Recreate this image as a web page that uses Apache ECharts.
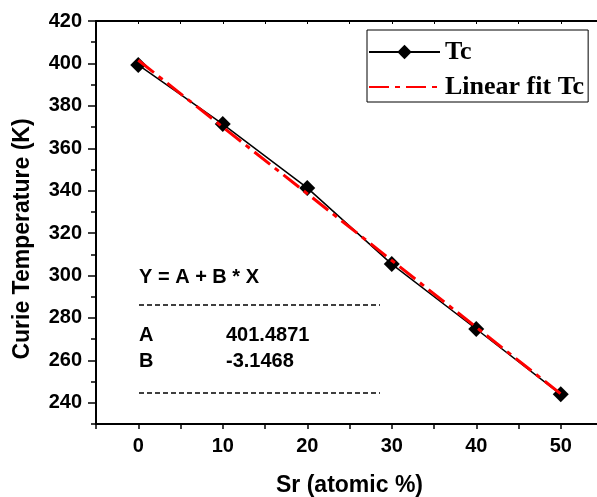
<!DOCTYPE html>
<html>
<head>
<meta charset="utf-8">
<script src="https://cdn.jsdelivr.net/npm/echarts@6/dist/echarts.min.js"></script>
<style>html,body{margin:0;padding:0;background:#fff;}#c{width:597px;height:497px;}</style>
</head>
<body>
<div id="c"></div>
<script>
// data
var srValues = [0, 10, 20, 30, 40, 50];
var tcValues = [399.3, 371.4, 341.3, 305.4, 274.8, 244.0];
var fitValues = [401.5, 370.0, 338.6, 307.1, 275.6, 244.2];
var yTickLabels = [240, 260, 280, 300, 320, 340, 360, 380, 400, 420];
var yMinorTicks = [230, 250, 270, 290, 310, 330, 350, 370, 390, 410];
var xTickLabels = [0, 10, 20, 30, 40, 50];
var xTicks = [-5, 0, 5, 10, 15, 20, 25, 30, 35, 40, 45, 50, 55];
var xTitle = 'Sr (atomic %)';
var yTitle = 'Curie Temperature (K)';
var fitText = { eq: 'Y = A + B * X', aName: 'A', aVal: '401.4871', bName: 'B', bVal: '-3.1468' };

var chart = echarts.init(document.getElementById('c'));
var sans = 'Liberation Sans';
var lbl = { fontFamily: sans, fontWeight: 'bold', fontSize: 20, color: '#000' };

chart.setOption({
  animation: false,
  grid: { left: 96, top: 21, right: -6, bottom: 73, containLabel: false, outerBoundsMode: 'none' },
  legend: {
    orient: 'vertical', left: 367, top: 30, width: 222,
    padding: [9, 4, 2, 1], itemGap: 9, itemWidth: 71, itemHeight: 18,
    borderColor: '#000', borderWidth: 1,
    textStyle: { fontFamily: 'Liberation Serif', fontWeight: 'bold', fontSize: 26, color: '#000' },
    data: ['Tc', { name: 'Linear fit Tc', itemStyle: { opacity: 0 } }]
  },
  xAxis: [{
    type: 'value', min: -5, max: 55, position: 'bottom',
    name: xTitle, nameLocation: 'middle', nameGap: 50,
    nameTextStyle: { fontFamily: sans, fontWeight: 'bold', fontSize: 23, color: '#000' },
    axisLine: { show: true, onZero: false, lineStyle: { color: '#000', width: 2 } },
    axisTick: { show: true, inside: false, length: 5, customValues: xTicks, lineStyle: { color: '#000', width: 1.5 } },
    axisLabel: Object.assign({ margin: 12, customValues: xTickLabels }, lbl),
    splitLine: { show: false }
  }, {
    type: 'value', min: -5, max: 55, position: 'top',
    axisLine: { show: true, onZero: false, lineStyle: { color: '#000', width: 2 } },
    axisTick: { show: true, inside: true, length: 3, customValues: xTicks, lineStyle: { color: '#000', width: 1 } },
    axisLabel: { show: false },
    splitLine: { show: false }
  }],
  yAxis: [{
    type: 'value', min: 230, max: 420, position: 'left',
    axisLine: { show: true, onZero: false, lineStyle: { color: '#000', width: 2 } },
    axisTick: { show: true, length: 8, customValues: yTickLabels, lineStyle: { color: '#000', width: 1.5 } },
    axisLabel: Object.assign({ margin: 14, customValues: yTickLabels }, lbl),
    splitLine: { show: false }
  }, {
    type: 'value', min: 230, max: 420, position: 'left',
    axisLine: { show: false, onZero: false },
    axisTick: { show: true, length: 5, customValues: yMinorTicks, lineStyle: { color: '#000', width: 1.5 } },
    axisLabel: { show: false },
    splitLine: { show: false }
  }],
  series: [{
    name: 'Tc', type: 'line', xAxisIndex: 0, yAxisIndex: 0,
    data: srValues.map(function (x, i) { return [x, tcValues[i]]; }),
    symbol: 'diamond', symbolSize: 16,
    itemStyle: { color: '#000' },
    lineStyle: { color: '#000', width: 1.5 },
    z: 2
  }, {
    name: 'Linear fit Tc', type: 'line', xAxisIndex: 0, yAxisIndex: 0,
    data: srValues.map(function (x, i) { return [x, fitValues[i]]; }),
    symbol: 'none', showSymbol: false,
    itemStyle: { color: '#ff0000' },
    lineStyle: { color: '#ff0000', width: 3, type: [20, 6, 5, 6] },
    z: 3
  }],
  graphic: [
    { type: 'text', x: 23, y: 239, rotation: Math.PI / 2,
      style: { text: yTitle, font: 'bold 23px "Liberation Sans"', fill: '#000', align: 'center', verticalAlign: 'middle' } },
    { type: 'text', left: 139, top: 267, style: { text: fitText.eq, font: 'bold 20px "Liberation Sans"', fill: '#000' } },
    { type: 'line', shape: { x1: 139, y1: 305, x2: 380, y2: 305 }, style: { stroke: '#000', lineWidth: 1.3, lineDash: [5, 3] } },
    { type: 'text', left: 139, top: 325, style: { text: fitText.aName, font: 'bold 20px "Liberation Sans"', fill: '#000' } },
    { type: 'text', left: 226, top: 325, style: { text: fitText.aVal, font: 'bold 20px "Liberation Sans"', fill: '#000' } },
    { type: 'text', left: 139, top: 351, style: { text: fitText.bName, font: 'bold 20px "Liberation Sans"', fill: '#000' } },
    { type: 'text', left: 226, top: 351, style: { text: fitText.bVal, font: 'bold 20px "Liberation Sans"', fill: '#000' } },
    { type: 'line', shape: { x1: 139, y1: 393, x2: 380, y2: 393 }, style: { stroke: '#000', lineWidth: 1.3, lineDash: [5, 3] } }
  ]
});
</script>
</body>
</html>
